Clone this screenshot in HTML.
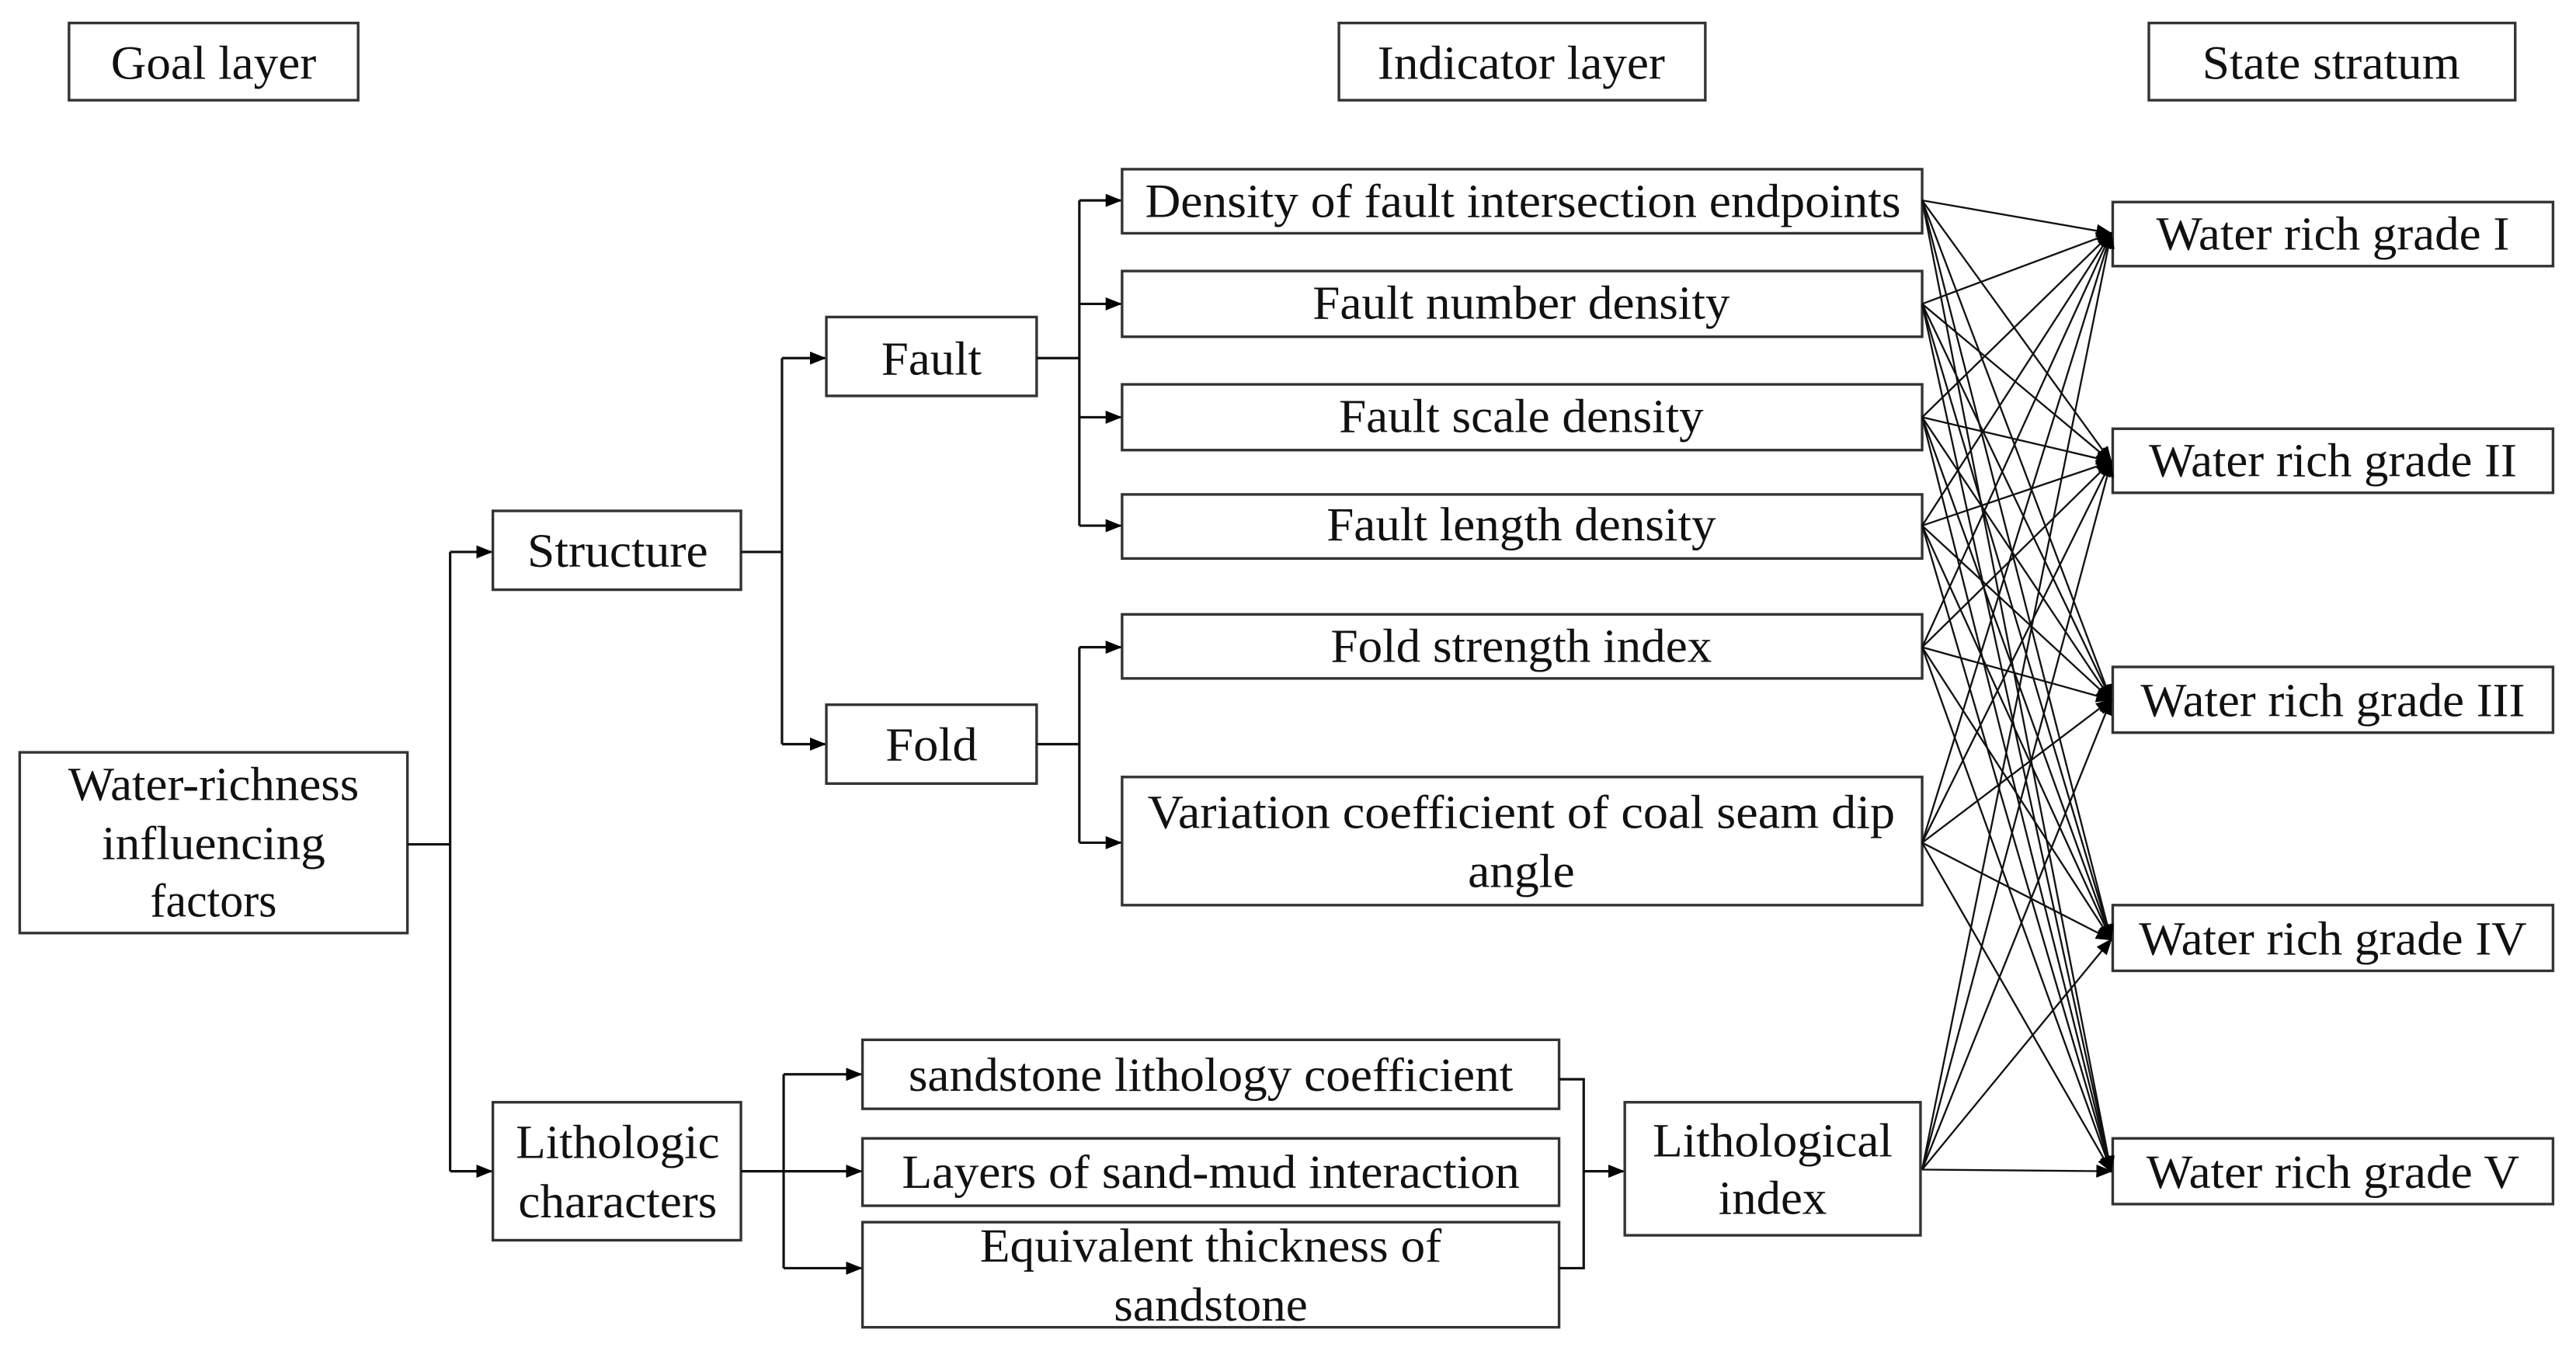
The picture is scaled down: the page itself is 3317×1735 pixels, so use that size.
<!DOCTYPE html>
<html><head><meta charset="utf-8"><style>html,body{margin:0;padding:0;background:#fff}svg{display:block}</style></head>
<body>
<svg width="3317" height="1735" viewBox="0 0 1568 820" preserveAspectRatio="none" xmlns="http://www.w3.org/2000/svg">
<defs><marker id="a" markerWidth="10" markerHeight="8" refX="9" refY="4" orient="auto" markerUnits="userSpaceOnUse"><path d="M0,0 L10,4 L0,8 z" fill="#000"/></marker></defs>
<g fill="#fff" stroke="#333" stroke-width="1.6">
<rect x="42" y="14" width="176" height="47"/><rect x="815" y="14" width="223" height="47"/><rect x="1308" y="14" width="223" height="47"/>
<rect x="12" y="458" width="236" height="110"/>
<rect x="300" y="311" width="151" height="48"/><rect x="300" y="671" width="151" height="84"/>
<rect x="503" y="193" width="128" height="48"/><rect x="503" y="429" width="128" height="48"/>
<rect x="683" y="103" width="487" height="39"/><rect x="683" y="165" width="487" height="40"/><rect x="683" y="234" width="487" height="40"/><rect x="683" y="301" width="487" height="39"/><rect x="683" y="374" width="487" height="39"/><rect x="683" y="473" width="487" height="78"/>
<rect x="525" y="633" width="424" height="42"/><rect x="525" y="693" width="424" height="41"/><rect x="525" y="744" width="424" height="64"/>
<rect x="989" y="671" width="180" height="81"/>
<rect x="1286" y="123" width="268" height="39"/><rect x="1286" y="261" width="268" height="39"/><rect x="1286" y="406" width="268" height="40"/><rect x="1286" y="551" width="268" height="40"/><rect x="1286" y="693" width="268" height="40"/>
</g>
<g fill="none" stroke="#111" stroke-width="1.5">
<path d="M248,514H274M274,336V713"/><path d="M274,336H299" marker-end="url(#a)"/><path d="M274,713H299" marker-end="url(#a)"/>
<path d="M451,336H476M476,218V453"/><path d="M476,218H502" marker-end="url(#a)"/><path d="M476,453H502" marker-end="url(#a)"/>
<path d="M631,218H657M657,122V320"/><path d="M657,122H682" marker-end="url(#a)"/><path d="M657,185H682" marker-end="url(#a)"/><path d="M657,254H682" marker-end="url(#a)"/><path d="M657,320H682" marker-end="url(#a)"/>
<path d="M631,453H657M657,394V513"/><path d="M657,394H682" marker-end="url(#a)"/><path d="M657,513H682" marker-end="url(#a)"/>
<path d="M451,713H477M477,654V772"/><path d="M477,654H524" marker-end="url(#a)"/><path d="M477,713H524" marker-end="url(#a)"/><path d="M477,772H524" marker-end="url(#a)"/>
<path d="M949,657H964V772H949"/><path d="M964,713H988" marker-end="url(#a)"/>
</g>
<g font-family="'Liberation Serif',serif" font-size="29" fill="#111" text-anchor="middle" lengthAdjust="spacingAndGlyphs">
<text x="130" y="48" textLength="125" lengthAdjust="spacingAndGlyphs">Goal layer</text><text x="926" y="48" textLength="175" lengthAdjust="spacingAndGlyphs">Indicator layer</text><text x="1419" y="48" textLength="157" lengthAdjust="spacingAndGlyphs">State stratum</text>
<text x="130" y="487" textLength="177" lengthAdjust="spacingAndGlyphs">Water-richness</text><text x="130" y="523" textLength="136" lengthAdjust="spacingAndGlyphs">influencing</text><text x="130" y="558" textLength="77" lengthAdjust="spacingAndGlyphs">factors</text>
<text x="376" y="345" textLength="110" lengthAdjust="spacingAndGlyphs">Structure</text><text x="376" y="705" textLength="124" lengthAdjust="spacingAndGlyphs">Lithologic</text><text x="376" y="741" textLength="121" lengthAdjust="spacingAndGlyphs">characters</text>
<text x="567" y="228" textLength="61" lengthAdjust="spacingAndGlyphs">Fault</text><text x="567" y="463" textLength="56" lengthAdjust="spacingAndGlyphs">Fold</text>
<text x="927" y="132" textLength="460" lengthAdjust="spacingAndGlyphs">Density of fault intersection endpoints</text>
<text x="926" y="194" textLength="254" lengthAdjust="spacingAndGlyphs">Fault number density</text><text x="926" y="263" textLength="222" lengthAdjust="spacingAndGlyphs">Fault scale density</text><text x="926" y="329" textLength="237" lengthAdjust="spacingAndGlyphs">Fault length density</text><text x="926" y="403" textLength="232" lengthAdjust="spacingAndGlyphs">Fold strength index</text>
<text x="926" y="504" textLength="455" lengthAdjust="spacingAndGlyphs">Variation coefficient of coal seam dip</text><text x="926" y="540" textLength="65" lengthAdjust="spacingAndGlyphs">angle</text>
<text x="737" y="664" textLength="368" lengthAdjust="spacingAndGlyphs">sandstone lithology coefficient</text>
<text x="737" y="723" textLength="376" lengthAdjust="spacingAndGlyphs">Layers of sand-mud interaction</text>
<text x="737" y="768" textLength="281" lengthAdjust="spacingAndGlyphs">Equivalent thickness of</text><text x="737" y="804" textLength="118" lengthAdjust="spacingAndGlyphs">sandstone</text>
<text x="1079" y="704" textLength="146" lengthAdjust="spacingAndGlyphs">Lithological</text><text x="1079" y="739" textLength="66" lengthAdjust="spacingAndGlyphs">index</text>
<text x="1420" y="152" textLength="215" lengthAdjust="spacingAndGlyphs">Water rich grade I</text><text x="1420" y="290" textLength="224" lengthAdjust="spacingAndGlyphs">Water rich grade II</text><text x="1420" y="436" textLength="234" lengthAdjust="spacingAndGlyphs">Water rich grade III</text><text x="1420" y="581" textLength="236" lengthAdjust="spacingAndGlyphs">Water rich grade IV</text><text x="1420" y="723" textLength="227" lengthAdjust="spacingAndGlyphs">Water rich grade V</text>
</g>
<g fill="none" stroke="#111" stroke-width="1.1">
<line x1="1170" y1="122" x2="1285" y2="142" marker-end="url(#a)"/><line x1="1170" y1="122" x2="1285" y2="281" marker-end="url(#a)"/><line x1="1170" y1="122" x2="1285" y2="426" marker-end="url(#a)"/><line x1="1170" y1="122" x2="1285" y2="572" marker-end="url(#a)"/><line x1="1170" y1="122" x2="1285" y2="713" marker-end="url(#a)"/>
<line x1="1170" y1="185" x2="1285" y2="142" marker-end="url(#a)"/><line x1="1170" y1="185" x2="1285" y2="281" marker-end="url(#a)"/><line x1="1170" y1="185" x2="1285" y2="426" marker-end="url(#a)"/><line x1="1170" y1="185" x2="1285" y2="572" marker-end="url(#a)"/><line x1="1170" y1="185" x2="1285" y2="713" marker-end="url(#a)"/>
<line x1="1170" y1="254" x2="1285" y2="142" marker-end="url(#a)"/><line x1="1170" y1="254" x2="1285" y2="281" marker-end="url(#a)"/><line x1="1170" y1="254" x2="1285" y2="426" marker-end="url(#a)"/><line x1="1170" y1="254" x2="1285" y2="572" marker-end="url(#a)"/><line x1="1170" y1="254" x2="1285" y2="713" marker-end="url(#a)"/>
<line x1="1170" y1="320" x2="1285" y2="142" marker-end="url(#a)"/><line x1="1170" y1="320" x2="1285" y2="281" marker-end="url(#a)"/><line x1="1170" y1="320" x2="1285" y2="426" marker-end="url(#a)"/><line x1="1170" y1="320" x2="1285" y2="572" marker-end="url(#a)"/><line x1="1170" y1="320" x2="1285" y2="713" marker-end="url(#a)"/>
<line x1="1170" y1="394" x2="1285" y2="142" marker-end="url(#a)"/><line x1="1170" y1="394" x2="1285" y2="281" marker-end="url(#a)"/><line x1="1170" y1="394" x2="1285" y2="426" marker-end="url(#a)"/><line x1="1170" y1="394" x2="1285" y2="572" marker-end="url(#a)"/><line x1="1170" y1="394" x2="1285" y2="713" marker-end="url(#a)"/>
<line x1="1170" y1="513" x2="1285" y2="142" marker-end="url(#a)"/><line x1="1170" y1="513" x2="1285" y2="281" marker-end="url(#a)"/><line x1="1170" y1="513" x2="1285" y2="426" marker-end="url(#a)"/><line x1="1170" y1="513" x2="1285" y2="572" marker-end="url(#a)"/><line x1="1170" y1="513" x2="1285" y2="713" marker-end="url(#a)"/>
<line x1="1170" y1="712" x2="1285" y2="142" marker-end="url(#a)"/><line x1="1170" y1="712" x2="1285" y2="281" marker-end="url(#a)"/><line x1="1170" y1="712" x2="1285" y2="426" marker-end="url(#a)"/><line x1="1170" y1="712" x2="1285" y2="572" marker-end="url(#a)"/><line x1="1170" y1="712" x2="1285" y2="713" marker-end="url(#a)"/>
</g>
</svg>
</body></html>
